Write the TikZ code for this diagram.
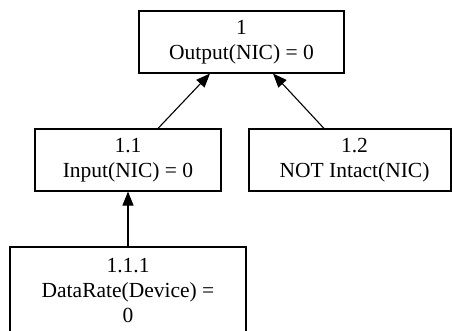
\documentclass[tikz,border=0pt]{standalone}
\usepackage{fontspec}
\setmainfont{Liberation Serif}
\usetikzlibrary{arrows.meta}
\begin{document}
\begin{tikzpicture}[x=1pt,y=-1pt,
  box/.style={draw,line width=1.1pt,inner sep=0pt,align=center,
    font=\fontsize{21.5}{25}\selectfont},
  conn/.style={line width=1.1pt,-{Triangle[length=14pt,width=11pt]}}]
\useasboundingbox (0,0) rectangle (452,331);
\clip (0,0) rectangle (452,331);
\node[box,minimum width=205pt,minimum height=62pt] (n1) at (241.5,42) {1\\Output(NIC) = 0};
\node[box,minimum width=186pt,minimum height=62pt] (n11) at (128,160) {1.1\\Input(NIC) = 0};
\node[box,minimum width=202pt,minimum height=62pt] (n12) at (350,160) {\hspace*{9pt}1.2\\\hspace*{9pt}NOT Intact(NIC)};
\node[box,minimum width=236pt,minimum height=87pt] (n111) at (128,290.5) {1.1.1\\DataRate(Device) =\\0};
\draw[conn] ([xshift=30pt]n11.north) -- ([xshift=-31.5pt]n1.south);
\draw[conn] ([xshift=-26pt]n12.north) -- ([xshift=31.5pt]n1.south);
\draw[conn] (n111.north) -- (n11.south);
\end{tikzpicture}
\end{document}
